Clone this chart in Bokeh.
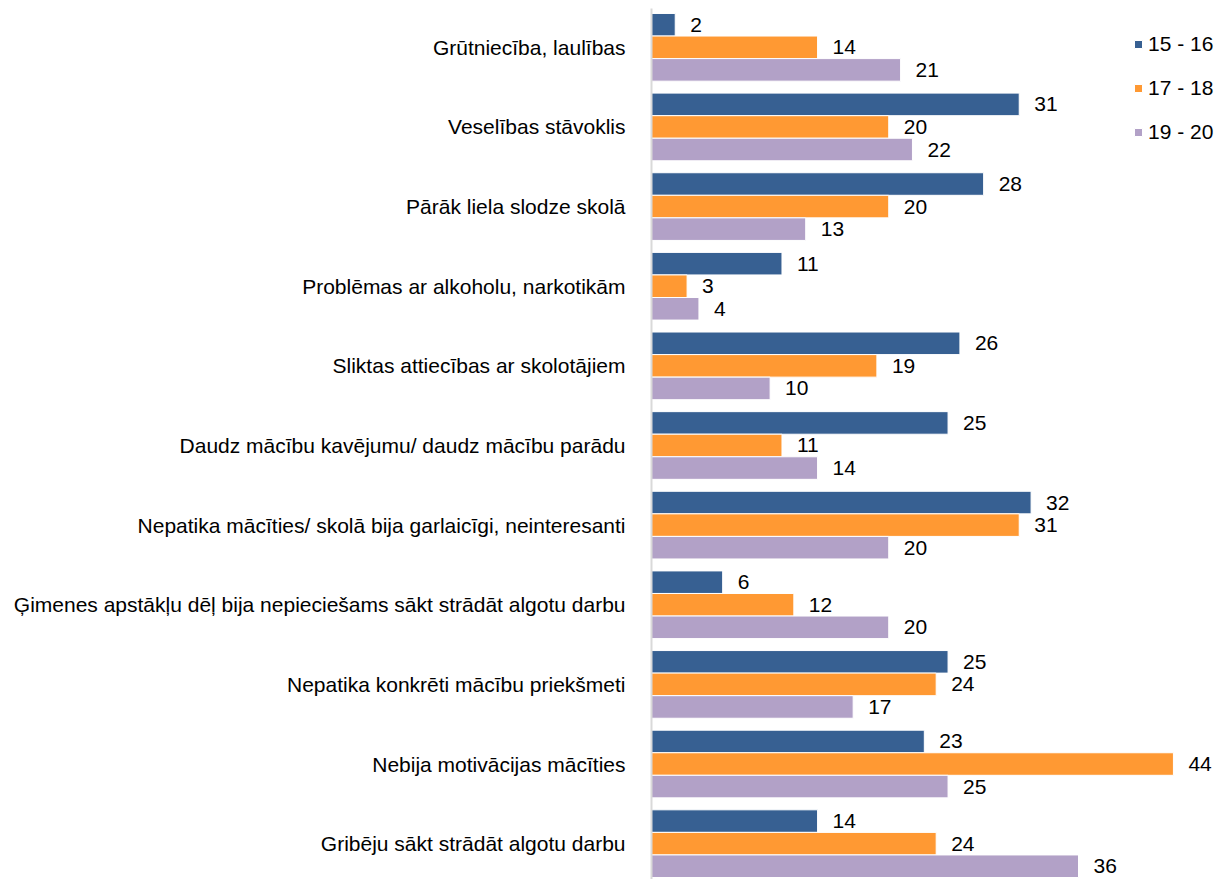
from bokeh.plotting import figure
from bokeh.models import ColumnDataSource, Range1d, FixedTicker, Legend, LegendItem, LabelSet
from bokeh.core.properties import value
from bokeh.embed import file_html
from bokeh.resources import INLINE

categories = [
    "Grūtniecība, laulības",
    "Veselības stāvoklis",
    "Pārāk liela slodze skolā",
    "Problēmas ar alkoholu, narkotikām",
    "Sliktas attiecības ar skolotājiem",
    "Daudz mācību kavējumu/ daudz mācību parādu",
    "Nepatika mācīties/ skolā bija garlaicīgi, neinteresanti",
    "Ģimenes apstākļu dēļ bija nepieciešams sākt strādāt algotu darbu",
    "Nepatika konkrēti mācību priekšmeti",
    "Nebija motivācijas mācīties",
    "Gribēju sākt strādāt algotu darbu",
]
series_names = ["15 - 16", "17 - 18", "19 - 20"]
v_15_16 = [2, 31, 28, 11, 26, 25, 32, 6, 25, 23, 14]
v_17_18 = [14, 20, 20, 3, 19, 11, 31, 12, 24, 44, 24]
v_19_20 = [21, 22, 13, 4, 10, 14, 20, 20, 17, 25, 36]
colors = ["#376092", "#FF9933", "#B2A1C7"]

FONT = "Liberation Sans"
FS = "21px"

n = len(categories)
p = figure(width=1218, height=879, output_backend="svg", toolbar_location=None,
           x_range=Range1d(0, 47.8), y_range=Range1d(10.45, -0.4875),
           min_border_left=651, min_border_right=0, min_border_top=8, min_border_bottom=0)
p.outline_line_color = None
p.xgrid.visible = False
p.ygrid.visible = False
p.xaxis.visible = False

bw = 0.2833
offsets = [-bw, 0, bw]
renderers = []
for vals, off, col, name in zip([v_15_16, v_17_18, v_19_20], offsets, colors, series_names):
    src = ColumnDataSource(dict(y=[i + off for i in range(n)], v=vals,
                                lbl=[str(v) for v in vals]))
    r = p.hbar(y="y", right="v", left=0, height=bw, source=src,
               fill_color=col, line_color="white", line_width=1)
    renderers.append(r)
    labels = LabelSet(x="v", y="y", text="lbl", source=src, x_offset=15, y_offset=0,
                      text_font=value(FONT), text_font_size=value(FS), text_color="#000000",
                      text_baseline="middle", text_align="left")
    p.add_layout(labels)

yax = p.yaxis[0]
yax.ticker = FixedTicker(ticks=list(range(n)))
yax.major_label_overrides = {i: c for i, c in enumerate(categories)}
yax.major_tick_line_color = None
yax.minor_tick_line_color = None
yax.axis_line_color = "#D9D9D9"
yax.axis_line_width = 2
yax.major_label_text_font = FONT
yax.major_label_text_font_size = FS
yax.major_label_text_color = "#000000"
yax.major_label_standoff = 20

legend = Legend(items=[LegendItem(label=nm, renderers=[r]) for nm, r in zip(series_names, renderers)],
                location=(482, 735), orientation="vertical",
                glyph_width=10, glyph_height=10, label_height=24, spacing=20,
                label_standoff=5, padding=0, margin=0,
                label_text_font=FONT, label_text_font_size=FS, label_text_color="#000000",
                border_line_color=None, background_fill_alpha=0)
p.add_layout(legend)

open("out.html", "w").write(file_html(p, INLINE))
